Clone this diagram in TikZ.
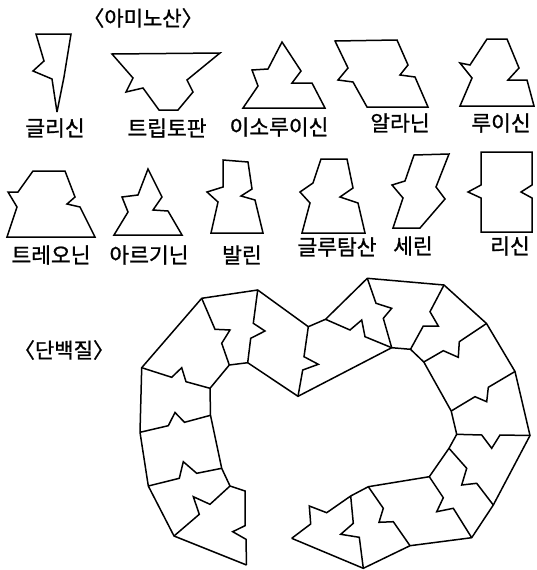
\documentclass[tikz,border=0pt]{standalone}
\usepackage{fontspec}
\newfontfamily\kr[FakeBold=1]{Noto Sans CJK KR}
\begin{document}
\begin{tikzpicture}[x=1pt,y=-1pt,
  outline/.style={draw=black,line width=1.5pt,line join=miter,miter limit=4},
  lbl/.style={font=\kr\fontsize{21.5}{21.5}\selectfont,inner sep=0pt},
  head/.style={font=\kr\fontsize{21}{21}\selectfont,inner sep=0pt}]
\useasboundingbox (0,0) rectangle (537,570);

% ---- amino acids, first row ----
\node[head] (amino) at (143,18) {〈아미노산〉};

\draw[outline] (36,34)--(71,34)--(64,77)--(57,112)--(52,79)--(33,71)--(44,61)--cycle;
\node[lbl] (gly) at (55,128) {글리신};

\draw[outline] (112,54)--(220,53)--(187,80)--(193,92)--(178,110)--(159,110)--(143,88)--(126,92)--(133,78)--cycle;
\node[lbl] (trp) at (167,128) {트립토판};

\draw[outline] (282,42)--(301,71)--(292,83)--(312,83)--(325,108)--(243,108)--(258,86)--(252,70)--(268,69)--cycle;
\node[lbl] (ile) at (279,127) {이소루이신};

\draw[outline] (335,41)--(397,40)--(408,65)--(400,75)--(415,77)--(428,107)--(367,107)--(353,82)--(338,80)--(348,68)--cycle;
\node[lbl] (ala) at (400,123) {알라닌};

\draw[outline] (487,39)--(507,39)--(519,68)--(508,80)--(527,80)--(534,106)--(460,106)--(472,78)--(460,63)--(470,65)--cycle;
\node[lbl] (leu) at (501,123) {루이신};

% ---- amino acids, second row ----
\draw[outline] (33,171)--(65,171)--(75,197)--(67,204)--(80,207)--(95,237)--(7,237)--(17,207)--(8,192)--(18,192)--cycle;
\node[lbl] (thr) at (51,255) {트레오닌};

\draw[outline] (148,169)--(162,197)--(153,210)--(168,211)--(182,235)--(114,235)--(128,212)--(122,197)--(138,195)--cycle;
\node[lbl] (arg) at (149,255) {아르기닌};

\draw[outline] (223,160)--(248,162)--(252,189)--(241,196)--(255,200)--(263,233)--(211,233)--(218,202)--(207,192)--(223,187)--cycle;
\node[lbl] (val) at (242,255) {발린};

\draw[outline] (321,159)--(347,159)--(353,188)--(340,197)--(358,203)--(365,233)--(302,233)--(310,203)--(300,192)--(313,183)--cycle;
\node[lbl] (glu) at (337,247) {글루탐산};

\draw[outline] (414,155)--(449,154)--(436,187)--(445,199)--(420,228)--(393,228)--(403,198)--(392,185)--(405,181)--cycle;
\node[lbl] (ser) at (413,246) {세린};

\draw[outline] (481,152)--(532,152)--(532,185)--(521,192)--(532,198)--(532,232)--(481,232)--(481,198)--(468,192)--(481,185)--cycle;
\node[lbl] (lys) at (510,246) {리신};

% ---- protein chain ----
\node[head] (protein) at (64,350) {〈단백질〉};

\coordinate (C) at (141.7,367.7);
\coordinate (A) at (201.7,298.3);
\coordinate (B) at (257.7,290);
\coordinate (D) at (229.3,365);
\coordinate (E) at (247.7,362.7);
\coordinate (F) at (210,388.3);
\coordinate (G) at (308.3,326.7);
\coordinate (H) at (325.5,319.3);
\coordinate (I) at (298,396.3);
\coordinate (J) at (140,432.3);
\coordinate (K) at (210.5,415.3);
\coordinate (L) at (148.3,486);
\coordinate (M) at (221.7,468.3);
\coordinate (N) at (230,486);
\coordinate (O) at (174,536);
\coordinate (P) at (245,491);
\coordinate (Q) at (246.5,565);
\coordinate (R) at (291.7,538.3);
\coordinate (S) at (350.7,496);
\coordinate (T) at (368.3,486.7);
\coordinate (U) at (363.3,568.3);
\coordinate (V) at (410,545.7);
\coordinate (W) at (429.3,476.7);
\coordinate (X) at (471.7,537.7);
\coordinate (Y) at (456.7,434.3);
\coordinate (YW) at (449,448.3);
\coordinate (Z) at (493.3,505);
\coordinate (AA) at (530,435.5);
\coordinate (AB) at (451.2,411);
\coordinate (AC) at (515,371.5);
\coordinate (AD) at (423.8,362);
\coordinate (AE) at (486.5,323.5);
\coordinate (AF) at (410.5,349.3);
\coordinate (AH) at (391.7,347.7);
\coordinate (AI) at (444,285);
\coordinate (AJ) at (367.3,278.3);

% outer rim of the chain
\draw[outline] (Q)--(O)--(L)--(J)--(C)--(A)--(B)--(G)--(H)--(AJ)--(AI)--(AE)--(AC)--(AA)--(Z)--(X)--(V)--(U)--(R);
% inner rim of the chain, with both end pieces
\draw[outline] (Q)--(246,539.3)--(232.7,531.7)--(245,525.7)--(P)--(N)--(M)--(K)--(F)--(D)--(E)--(I)--(AH)--(AF)--(AD)--(AB)--(Y)--(YW)--(W)--(T)--(S)--(326.7,512.7)--(309.3,506)--(310.7,524)--(R);

% joints between neighbouring residues
\draw[outline] (N)--(210,504.3)--(193.3,496.7)--(199.3,514.3)--(O);
\draw[outline] (L)--(179.3,478.3)--(183.3,461.7)--(196.7,473.3)--(M);
\draw[outline] (J)--(168.3,425.7)--(175,412.5)--(184.5,422.3)--(K);
\draw[outline] (C)--(171.7,377.3)--(181.7,367.7)--(186,381.7)--(F);
\draw[outline] (A)--(215,329.3)--(230,330)--(221.7,343.3)--(D);
\draw[outline] (B)--(253.3,323.3)--(265,331)--(250.7,338.3)--(E);
\draw[outline] (G)--(304,356.7)--(318.3,364.3)--(302.7,370)--(I);
\draw[outline] (H)--(350,330)--(361.7,320)--(365,336.7)--(AH);
\draw[outline] (AJ)--(376,303.3)--(391.7,308.3)--(383.3,318.3)--(AH);
\draw[outline] (AI)--(430,311.7)--(438.3,326)--(423.3,326)--(AF);
\draw[outline] (AE)--(459.3,341.7)--(458.3,357.3)--(443.3,350.7)--(AD);
\draw[outline] (AC)--(488.3,387.3)--(486.7,401.7)--(475,396.7)--(AB);
\draw[outline] (AA)--(500,435)--(491.7,448.3)--(481.7,435)--(Y);
\draw[outline] (Z)--(476.7,483.3)--(461.7,485)--(466.7,468.3)--(YW);
\draw[outline] (X)--(453.3,508.3)--(436.7,511.7)--(443.3,497.7)--(W);
\draw[outline] (V)--(393.3,521.7)--(379,522.3)--(383.3,508.3)--(T);
\draw[outline] (U)--(359.3,537.3)--(340.7,534.3)--(353.3,523.3)--(S);
\end{tikzpicture}
\end{document}
